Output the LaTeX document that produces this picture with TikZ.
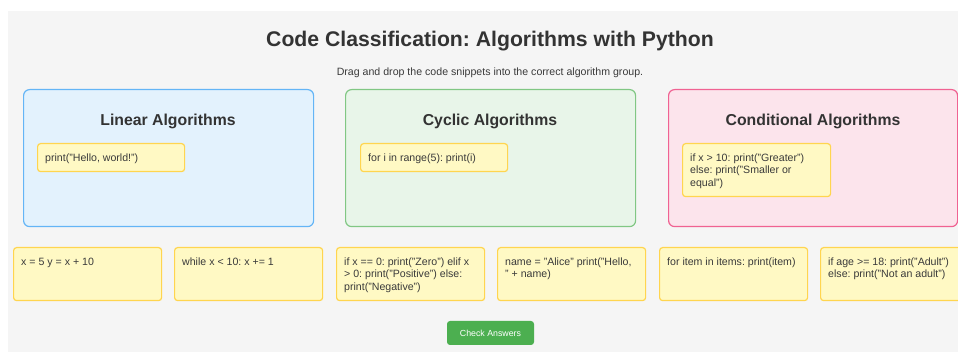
\documentclass[tikz,border=0pt]{standalone}
\usepackage{fontspec}
\setmainfont{Liberation Sans}
\frenchspacing
\definecolor{panelgray}{HTML}{F5F5F5}
\definecolor{titlegray}{HTML}{333333}
\definecolor{textgray}{HTML}{3A3A3A}
\definecolor{bluefill}{HTML}{E3F2FD}
\definecolor{blueborder}{HTML}{64B5F6}
\definecolor{greenfill}{HTML}{E8F5E9}
\definecolor{greenborder}{HTML}{81C784}
\definecolor{pinkfill}{HTML}{FCE4EC}
\definecolor{pinkborder}{HTML}{F06292}
\definecolor{snipfill}{HTML}{FFF9C4}
\definecolor{snipborder}{HTML}{FFD54F}
\definecolor{btngreen}{HTML}{4CAF50}
\tikzset{
  panel/.style={line width=1.2pt, rounded corners=6pt, minimum width=290pt, minimum height=137pt, anchor=north west, inner sep=0pt},
  snip/.style={draw=snipborder, fill=snipfill, line width=1.2pt, rounded corners=3pt, anchor=north west, inner sep=0pt, minimum width=148pt, minimum height=53pt},
  code/.style={anchor=north west, inner sep=0pt, align=left, font=\fontsize{10.6}{12.5}\selectfont, text=textgray},
  grouptitle/.style={font=\bfseries\fontsize{15.8}{18}\selectfont, text=titlegray},
}
\begin{document}
\begin{tikzpicture}[x=1pt,y=-1pt]
\useasboundingbox (0,0) rectangle (958,352);
\clip (0,0) rectangle (958,352);
\fill[white] (0,0) rectangle (958,352);
\fill[panelgray] (8,11) rectangle (958,352);

\node[font=\bfseries\fontsize{21.2}{24}\selectfont, text=titlegray] (title) at (490,41.5) {Code Classification: Algorithms with Python};
\node[font=\fontsize{10.6}{12}\selectfont, text=textgray] (subtitle) at (490,73) {Drag and drop the code snippets into the correct algorithm group.};

% group panels
\node[panel, draw=blueborder, fill=bluefill] (linear) at (23,89) {};
\node[panel, draw=greenborder, fill=greenfill] (cyclic) at (345,89) {};
\node[panel, draw=pinkborder, fill=pinkfill, minimum width=289pt] (cond) at (668,89) {};

\node[grouptitle] (lineartitle) at (168,121.5) {Linear Algorithms};
\node[grouptitle] (cyclictitle) at (490,121.5) {Cyclic Algorithms};
\node[grouptitle] (condtitle) at (813,121.5) {Conditional Algorithms};

% snippets inside groups
\node[snip, minimum width=147pt, minimum height=28pt] (s1) at (37,143) {};
\node[code] (s1t) at ([shift={(8,9.5)}]s1.north west) {\strut print("Hello, world!")};
\node[snip, minimum width=147pt, minimum height=28pt] (s2) at (360,143) {};
\node[code] (s2t) at ([shift={(8,9.5)}]s2.north west) {\strut for i in range(5): print(i)};
\node[snip] (s3) at (682,143) {};
\node[code] (s3t) at ([shift={(8,9.5)}]s3.north west) {\strut if x > 10: print("Greater")\\else: print("Smaller or\\equal")};

% pool of snippets
\node[snip] (p1) at (13,247) {};
\node[code] (p1t) at ([shift={(8,9.5)}]p1.north west) {\strut x = 5 y = x + 10};
\node[snip] (p2) at (174,247) {};
\node[code] (p2t) at ([shift={(8,9.5)}]p2.north west) {\strut while x < 10: x += 1};
\node[snip] (p3) at (336,247) {};
\node[code] (p3t) at ([shift={(8,9.5)}]p3.north west) {\strut if x == 0: print("Zero") elif x\\> 0: print("Positive") else:\\print("Negative")};
\node[snip] (p4) at (497,247) {};
\node[code] (p4t) at ([shift={(8,9.5)}]p4.north west) {\strut name = "Alice" print("Hello,\\" + name)};
\node[snip] (p5) at (659,247) {};
\node[code] (p5t) at ([shift={(8,9.5)}]p5.north west) {\strut for item in items: print(item)};
\node[snip] (p6) at (820,247) {};
\node[code] (p6t) at ([shift={(8,9.5)}]p6.north west) {\strut if age >= 18: print("Adult")\\else: print("Not an adult")};

% button
\node[fill=btngreen, rounded corners=3pt, minimum width=87pt, minimum height=24pt, inner sep=0pt, text=white, font=\fontsize{8.8}{10}\selectfont] (check) at (490.5,333) {Check Answers};
\end{tikzpicture}
\end{document}
